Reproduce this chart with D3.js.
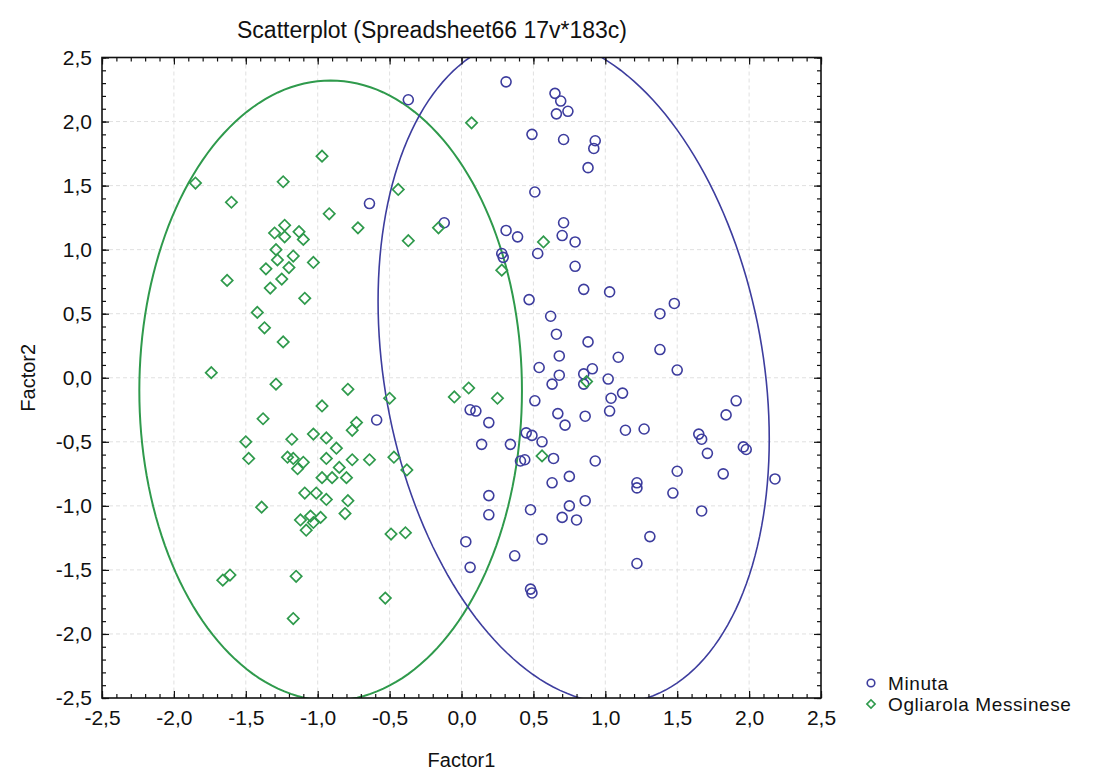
<!DOCTYPE html>
<html lang="en">
<head>
    <meta charset="utf-8">
    <title>Scatterplot</title>
    <script src="https://d3js.org/d3.v7.min.js"></script>
    <style>
        body { margin: 0; background: #fff; }
        text { font-family: "Liberation Sans", Arial, sans-serif; fill: #111; }
    </style>
</head>
<body>
<svg id="chart"></svg>
<script>

    // Factor1 / Factor2 scores
    const minuta = [
        [0.31, 2.31], [-0.37, 2.17], [0.65, 2.22], [0.69, 2.16], [0.66, 2.06], [0.74, 2.08],
        [0.49, 1.90], [0.71, 1.86], [0.92, 1.79], [0.93, 1.85], [0.88, 1.64], [0.51, 1.45],
        [-0.64, 1.36], [-0.12, 1.21], [0.31, 1.15], [0.39, 1.10], [0.71, 1.21], [0.70, 1.11],
        [0.79, 1.06], [0.53, 0.97], [0.28, 0.97], [0.29, 0.94], [0.79, 0.87], [0.85, 0.69],
        [0.47, 0.61], [0.62, 0.48], [0.66, 0.34], [0.88, 0.28], [0.68, 0.17], [0.54, 0.08],
        [0.68, 0.02], [0.91, 0.07], [0.85, 0.03], [0.85, -0.05], [0.63, -0.05], [0.51, -0.18],
        [0.06, -0.25], [0.10, -0.26], [0.19, -0.35], [0.67, -0.28], [0.86, -0.30], [0.72, -0.37],
        [0.45, -0.43], [0.49, -0.45], [0.56, -0.50], [0.14, -0.52], [0.34, -0.52], [-0.59, -0.33],
        [0.44, -0.64], [0.41, -0.65], [0.64, -0.63], [0.75, -0.77], [0.63, -0.82], [0.19, -0.92],
        [0.86, -0.96], [0.75, -1.00], [0.48, -1.03], [0.19, -1.07], [0.70, -1.09], [0.80, -1.11],
        [0.03, -1.28], [0.56, -1.26], [0.37, -1.39], [0.06, -1.48], [0.48, -1.65], [0.49, -1.68],
        [1.22, -0.82], [1.22, -0.86], [1.50, -0.73], [1.82, -0.75], [1.47, -0.90], [1.67, -1.04],
        [1.31, -1.24], [1.22, -1.45], [2.18, -0.79], [1.03, 0.67], [1.38, 0.50], [1.48, 0.58],
        [1.09, 0.16], [1.38, 0.22], [1.50, 0.06], [1.02, -0.01], [1.12, -0.12], [1.04, -0.16],
        [1.03, -0.26], [1.91, -0.18], [1.84, -0.29], [1.14, -0.41], [1.27, -0.40], [1.65, -0.44],
        [1.67, -0.48], [1.71, -0.59], [1.96, -0.54], [1.98, -0.56], [0.93, -0.65]
    ];

    const ogliarola = [
        [-0.97, 1.73], [-1.85, 1.52], [-1.60, 1.37], [-1.24, 1.53], [-0.92, 1.28], [-1.23, 1.19],
        [-1.30, 1.13], [-1.23, 1.10], [-1.13, 1.14], [-1.10, 1.08], [-1.29, 1.00], [-1.28, 0.92],
        [-1.17, 0.95], [-1.03, 0.90], [-1.36, 0.85], [-1.20, 0.86], [-1.25, 0.77], [-1.63, 0.76],
        [-1.33, 0.70], [-1.09, 0.62], [-1.42, 0.51], [-1.37, 0.39], [-1.24, 0.28], [-1.74, 0.04],
        [-1.29, -0.05], [-0.97, -0.22], [-1.38, -0.32], [-1.50, -0.50], [-1.18, -0.48], [-1.03, -0.44],
        [-0.94, -0.47], [-0.87, -0.55], [-1.48, -0.63], [-1.21, -0.62], [-1.17, -0.63], [-1.10, -0.66],
        [-1.14, -0.71], [-0.94, -0.63], [-0.85, -0.70], [-0.97, -0.78], [-0.90, -0.78], [-1.09, -0.90],
        [-1.01, -0.90], [-0.94, -0.95], [-0.81, -1.06], [-1.39, -1.01], [-1.12, -1.11], [-1.05, -1.08],
        [-0.98, -1.09], [-1.03, -1.13], [-1.08, -1.19], [-1.66, -1.58], [-1.61, -1.54], [-1.15, -1.55],
        [-1.17, -1.88], [0.07, 1.99], [-0.44, 1.47], [-0.72, 1.17], [-0.37, 1.07], [-0.16, 1.17],
        [0.57, 1.06], [0.28, 0.84], [-0.79, -0.09], [-0.50, -0.16], [-0.05, -0.15], [0.05, -0.08],
        [0.25, -0.16], [-0.73, -0.35], [-0.76, -0.41], [-0.76, -0.64], [-0.64, -0.64], [-0.47, -0.62],
        [-0.38, -0.72], [0.56, -0.61], [-0.80, -0.78], [-0.79, -0.96], [-0.49, -1.22], [-0.39, -1.21],
        [-0.53, -1.72], [0.87, -0.03]
    ];

    // prediction ellipses: centre and covariance [[a, b], [b, d]]
    const minutaEllipse = {c: [0.78, 0.06], cov: [[1.85, -0.73], [-0.73, 6.76]]};
    const ogliarolaEllipse = {c: [-0.91, -0.10], cov: [[1.77, 0], [0, 5.86]]};

    const tickVals = [-2.5, -2, -1.5, -1, -0.5, 0, 0.5, 1, 1.5, 2, 2.5];
    const minorVals = d3.range(-25, 26).map(d => d / 10);
    const legendNames = ["Minuta", "Ogliarola Messinese"];

    const blue = "#3d3d9e", green = "#2f9a4c";

    let width = 1105, height = 774,
        margin = {top: 57.5, right: 284, bottom: 76, left: 102},
        chartWidth = width - margin.left - margin.right,
        chartHeight = height - margin.top - margin.bottom;

    let svg = d3.select("#chart")
        .attr("width", width)
        .attr("height", height);

    let x = d3.scaleLinear().domain([-2.5, 2.5]).range([0, chartWidth]);
    let y = d3.scaleLinear().domain([-2.5, 2.5]).range([chartHeight, 0]);
    const fmt = d => d3.format(".1f")(d).replace(".", ",").replace("−", "-");

    svg.append("text")
        .attr("x", 432).attr("y", 38)
        .attr("text-anchor", "middle")
        .style("font-size", "23px")
        .text("Scatterplot (Spreadsheet66 17v*183c)");

    let g = svg.append("g")
        .attr("transform", `translate(${margin.left},${margin.top})`);

    svg.append("defs").append("clipPath").attr("id", "clip")
        .append("rect").attr("x", 0).attr("y", 0)
        .attr("width", chartWidth).attr("height", chartHeight);

    // grid
    let inner = tickVals.slice(1, -1);
    let grid = g.append("g");
    grid.append("g").selectAll("line").data(inner).join("line")
        .attr("x1", d => x(d)).attr("x2", d => x(d))
        .attr("y1", 0).attr("y2", chartHeight);
    grid.append("g").selectAll("line").data(inner).join("line")
        .attr("y1", d => y(d)).attr("y2", d => y(d))
        .attr("x1", 0).attr("x2", chartWidth);
    grid.selectAll("line")
        .attr("stroke", "#e0e0e0")
        .attr("stroke-dasharray", "4,3")
        .attr("stroke-width", 1);

    // ellipses
    function ellipsePath(e) {
        let a = e.cov[0][0], b = e.cov[0][1], d = e.cov[1][1];
        let l11 = Math.sqrt(a), l21 = b / l11, l22 = Math.sqrt(d - l21 * l21);
        let pts = d3.range(0, 361, 2).map(deg => {
            let t = deg * Math.PI / 180;
            return [x(e.c[0] + l11 * Math.cos(t)),
                    y(e.c[1] + l21 * Math.cos(t) + l22 * Math.sin(t))];
        });
        return d3.line()(pts);
    }

    let plot = g.append("g").attr("clip-path", "url(#clip)");

    plot.append("path").attr("d", ellipsePath(ogliarolaEllipse))
        .attr("fill", "none").attr("stroke", green).attr("stroke-width", 2);
    plot.append("path").attr("d", ellipsePath(minutaEllipse))
        .attr("fill", "none").attr("stroke", blue).attr("stroke-width", 1.6);

    // points
    plot.append("g").selectAll("circle").data(minuta).join("circle")
        .attr("cx", d => x(d[0])).attr("cy", d => y(d[1]))
        .attr("r", 5)
        .attr("fill", "none").attr("stroke", blue).attr("stroke-width", 1.6);

    let diamond = d3.symbol().type(d3.symbolSquare).size(64);
    plot.append("g").selectAll("path").data(ogliarola).join("path")
        .attr("d", diamond)
        .attr("transform", d => `translate(${x(d[0])},${y(d[1])}) rotate(45)`)
        .attr("fill", "none").attr("stroke", green).attr("stroke-width", 1.7);

    // inward ticks on all four sides
    function ticks(axis, tr) {
        let major = g.append("g").attr("transform", tr)
            .call(axis.tickValues(tickVals).tickSize(-7));
        let minor = g.append("g").attr("transform", tr)
            .call(axis.tickValues(minorVals).tickSize(-4).tickFormat(""));
        [major, minor].forEach(s => {
            s.select(".domain").remove();
            s.selectAll("line").attr("stroke", "#111").attr("stroke-width", 1.2);
        });
        return major;
    }

    let xb = ticks(d3.axisBottom(x).tickFormat(fmt).tickPadding(12), `translate(0,${chartHeight})`);
    xb.selectAll("text").style("font-size", "21px").attr("font-family", null).attr("fill", "#111");
    let yl = ticks(d3.axisLeft(y).tickFormat(fmt).tickPadding(10), "translate(0,0)");
    yl.selectAll("text").style("font-size", "21px").attr("font-family", null).attr("fill", "#111");
    ticks(d3.axisTop(x).tickFormat(""), "translate(0,0)");
    ticks(d3.axisRight(y).tickFormat(""), `translate(${chartWidth},0)`);

    g.append("rect")
        .attr("width", chartWidth).attr("height", chartHeight)
        .attr("fill", "none").attr("stroke", "#111").attr("stroke-width", 1.6);

    // axis titles
    svg.append("text")
        .attr("x", margin.left + chartWidth / 2).attr("y", 767)
        .attr("text-anchor", "middle").style("font-size", "20px")
        .text("Factor1");
    svg.append("text")
        .attr("transform", `translate(35,${margin.top + chartHeight / 2}) rotate(-90)`)
        .attr("text-anchor", "middle").style("font-size", "20px")
        .text("Factor2");

    // legend
    let legend = svg.append("g").attr("transform", "translate(871,683)");
    legend.append("circle").attr("r", 3.8)
        .attr("fill", "none").attr("stroke", blue).attr("stroke-width", 1.6);
    legend.append("path").attr("d", d3.symbol().type(d3.symbolSquare).size(34))
        .attr("transform", "translate(0,21) rotate(45)")
        .attr("fill", "none").attr("stroke", green).attr("stroke-width", 1.6);
    legend.selectAll("text").data(legendNames).join("text")
        .attr("x", 17).attr("y", (d, i) => i * 21 + 7)
        .style("font-size", "19px")
        .style("letter-spacing", "0.6px")
        .text(d => d);

</script>
</body>
</html>
